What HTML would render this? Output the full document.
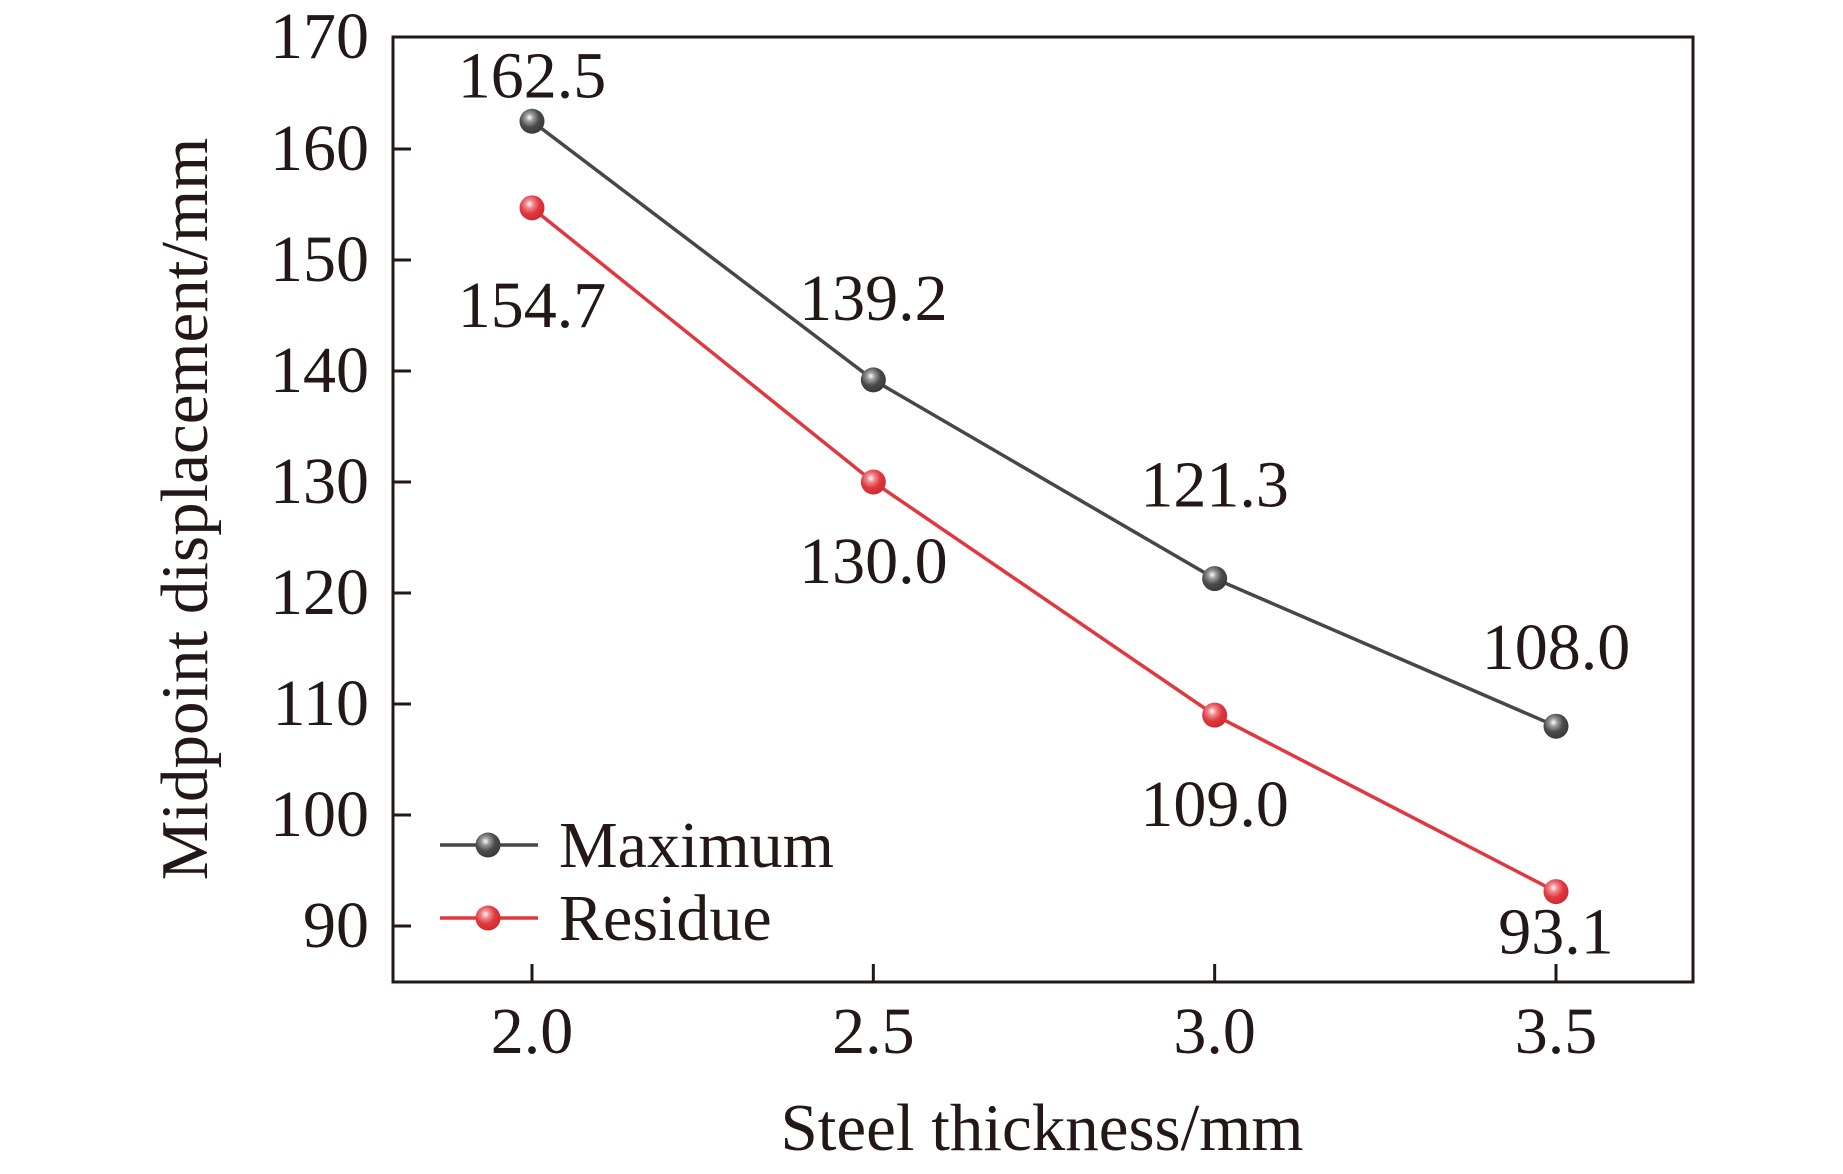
<!DOCTYPE html>
<html><head><meta charset="utf-8"><style>
html,body{margin:0;padding:0;background:#fff;}
svg{display:block;font-family:"Liberation Serif","Times New Roman",serif;}
</style></head><body>
<svg id="chart" width="1843" height="1174" viewBox="0 0 1843 1174" xmlns="http://www.w3.org/2000/svg">
<defs>
<radialGradient id="gGray" cx="0.4" cy="0.35" r="0.65"><stop offset="0" stop-color="#fff"/><stop offset="0.25" stop-color="#9a9a9a"/><stop offset="0.6" stop-color="#4a4a4a"/><stop offset="1" stop-color="#3a3a3a"/></radialGradient>
<radialGradient id="gRed" cx="0.4" cy="0.35" r="0.65"><stop offset="0" stop-color="#fff"/><stop offset="0.25" stop-color="#f08a8e"/><stop offset="0.6" stop-color="#e0383e"/><stop offset="1" stop-color="#d02a30"/></radialGradient>
</defs>
<g id="plot"></g>
</svg>
<script>
const categories = [2.0, 2.5, 3.0, 3.5];
const maxValues = [162.5, 139.2, 121.3, 108.0];
const residueValues = [154.7, 130.0, 109.0, 93.1];
const maxLabels = ["162.5", "139.2", "121.3", "108.0"];
const residueLabels = ["154.7", "130.0", "109.0", "93.1"];
const yTicks = [90, 100, 110, 120, 130, 140, 150, 160, 170];
const xTickLabels = ["2.0", "2.5", "3.0", "3.5"];

const L = 393, R = 1693, T = 37, B = 982;
const FS = 66;
function xs(v){ return 532 + (v - 2.0) / 1.5 * (1556 - 532); }
function ys(v){ return 926 - (v - 90) / 10 * 111; }
const NS = "http://www.w3.org/2000/svg";
const g = document.getElementById('plot');
function el(tag, attrs, parent){
  const e = document.createElementNS(NS, tag);
  for (const k in attrs) e.setAttribute(k, attrs[k]);
  (parent || g).appendChild(e);
  return e;
}
function txt(x, y, s, anchor, size){
  const t = el('text', {x: x, y: y, 'text-anchor': anchor, 'font-size': size || FS, fill: '#231815'});
  t.textContent = s;
  return t;
}
const frame = el('rect', {x: L, y: T, width: R - L, height: B - T, fill: 'none', stroke: '#231815', 'stroke-width': 3});


yTicks.forEach(v => {
  const y = ys(v);
  if (v < 170) {
    const tk = el('line', {x1: L, x2: L + 18, y1: y, y2: y, stroke: '#231815', 'stroke-width': 3});
    
    
  }
  const t = txt(369, (v === 170 ? T : y) + 21, String(v), 'end');
  
  
});
categories.forEach((c, i) => {
  const x = xs(c);
  const tk = el('line', {x1: x, x2: x, y1: B, y2: B - 18, stroke: '#231815', 'stroke-width': 3});
  
  
  const t = txt(x, 1053, xTickLabels[i], 'middle');
  
  
});
function series(vals, color, grad, name){
  const pts = vals.map((v, i) => xs(categories[i]) + ',' + ys(v)).join(' ');
  const pl = el('polyline', {points: pts, fill: 'none', stroke: color, 'stroke-width': 3.5});
  
  
  vals.forEach((v, i) => {
    const c = el('circle', {cx: xs(categories[i]), cy: ys(v), r: 12.5, fill: 'url(#' + grad + ')'});
    
    
  });
}
series(maxValues, '#474747', 'gGray', 'maximum');
series(residueValues, '#e0383e', 'gRed', 'residue');
const maxOff = [-24, -60, -72, -57];
maxValues.forEach((v, i) => {
  const t = txt(xs(categories[i]), ys(v) + maxOff[i], maxLabels[i], 'middle');
  
  
});
const resOff = [119, 101, 111, 62];
residueValues.forEach((v, i) => {
  const t = txt(xs(categories[i]), ys(v) + resOff[i], residueLabels[i], 'middle');
  
  
});
const lg = el('g', {});


[[845, '#474747', 'gGray', 'Maximum'], [918, '#e0383e', 'gRed', 'Residue']].forEach(d => {
  const ln = el('line', {x1: 440, x2: 538, y1: d[0], y2: d[0], stroke: d[1], 'stroke-width': 3.5}, lg);
  
  
  const c = el('circle', {cx: 488, cy: d[0], r: 12.5, fill: 'url(#' + d[2] + ')'}, lg);
  
  
  const t = el('text', {x: 559, y: d[0] + 22, 'font-size': FS, fill: '#231815'}, lg);
  t.textContent = d[3];
  
  
});
const xt = txt(1042, 1150, 'Steel thickness/mm', 'middle', 67);


const yt = el('text', {x: 0, y: 0, 'text-anchor': 'middle', 'font-size': 67, fill: '#231815', transform: 'translate(207,509) rotate(-90)'});
yt.textContent = 'Midpoint displacement/mm';


</script>
</body></html>
